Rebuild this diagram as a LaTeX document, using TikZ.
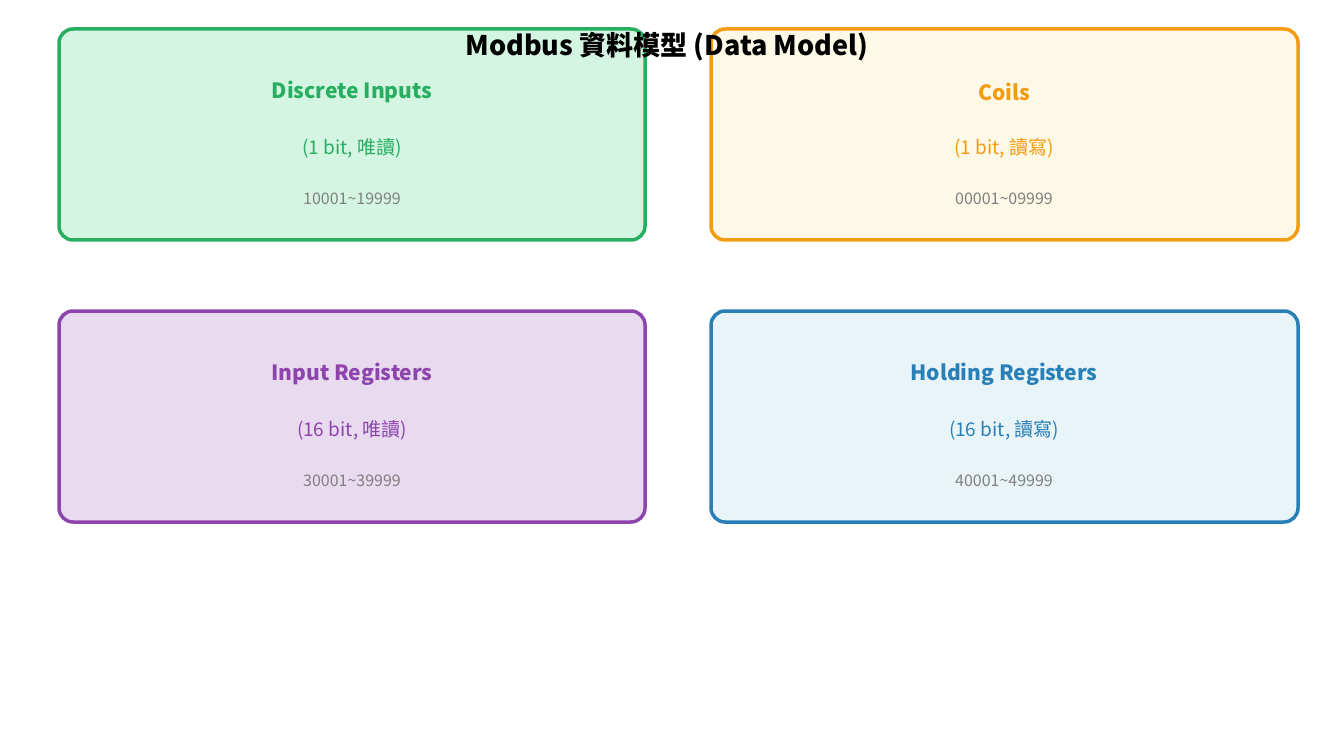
\documentclass[tikz,border=0pt]{standalone}
\usepackage{fontspec}
\setmainfont{Noto Sans CJK TC}
\definecolor{cg}{HTML}{27AE60}\definecolor{fg}{HTML}{D5F5E3}
\definecolor{co}{HTML}{F39C12}\definecolor{fo}{HTML}{FEF8E6}
\definecolor{cp}{HTML}{8E44AD}\definecolor{fp}{HTML}{E8DAEF}
\definecolor{cb}{HTML}{2980B9}\definecolor{fb}{HTML}{E8F4F8}
\definecolor{rg}{HTML}{808080}
\begin{document}
\begin{tikzpicture}[x=1pt,y=-1pt,
  box/.style={line width=3.5pt,rounded corners=14pt},
  ttl/.style={font=\fontsize{21}{24}\selectfont\bfseries},
  sub/.style={font=\fontsize{19}{22}\selectfont},
  rng/.style={font=\fontsize{16}{19}\selectfont,text=rg}]
\useasboundingbox (0,0) rectangle (1335,735);
\draw[box,draw=cg,fill=fg] (59,29) rectangle (645,240);
\draw[box,draw=co,fill=fo] (711,29) rectangle (1298,240);
\draw[box,draw=cp,fill=fp] (59,311) rectangle (645,522);
\draw[box,draw=cb,fill=fb] (711,311) rectangle (1298,522);
\node[ttl,text=cg] (n1) at (352,92) {Discrete Inputs};
\node[sub,text=cg] (s1) at (352,148) {(1 bit, 唯讀)};
\node[rng] (r1) at (352,199) {10001\textasciitilde 19999};
\node[ttl,text=co] (n2) at (1004,92) {Coils};
\node[sub,text=co] (s2) at (1004,148) {(1 bit, 讀寫)};
\node[rng] (r2) at (1004,199) {00001\textasciitilde 09999};
\node[ttl,text=cp] (n3) at (352,374) {Input Registers};
\node[sub,text=cp] (s3) at (352,430) {(16 bit, 唯讀)};
\node[rng] (r3) at (352,481) {30001\textasciitilde 39999};
\node[ttl,text=cb] (n4) at (1004,374) {Holding Registers};
\node[sub,text=cb] (s4) at (1004,430) {(16 bit, 讀寫)};
\node[rng] (r4) at (1004,481) {40001\textasciitilde 49999};
\node[font=\fontsize{27}{30}\selectfont\bfseries] (t) at (667,47) {Modbus 資料模型 (Data Model)};
\end{tikzpicture}
\end{document}
